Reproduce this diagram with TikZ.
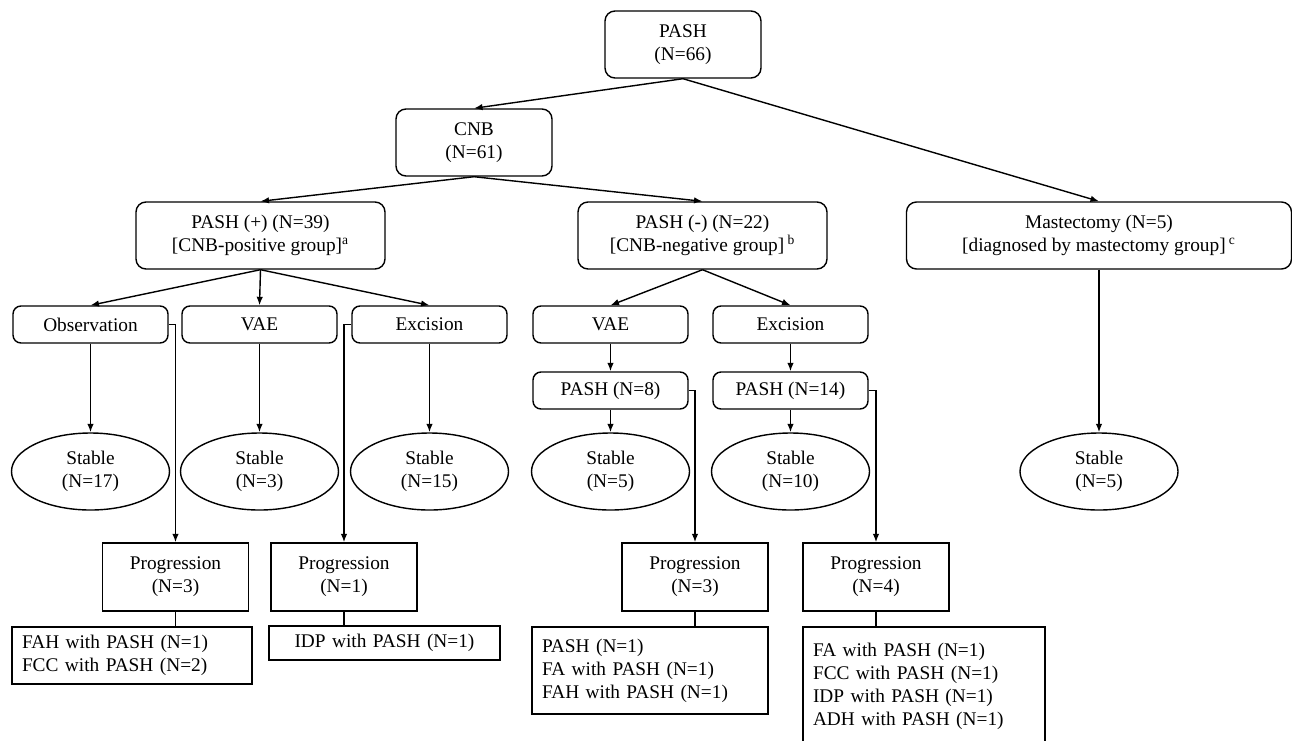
\documentclass[tikz,border=0pt]{standalone}
\usepackage{fontspec}
\setmainfont{Liberation Serif}
\usetikzlibrary{arrows.meta, shapes.geometric}

\begin{document}
\begin{tikzpicture}[line width=0.8pt, >={Latex[length=1.7mm, width=1.3mm]},
  every node/.style={align=center, font=\fontsize{11}{13.1}\selectfont, inner sep=0pt},
  rbox/.style={draw, rounded corners=0.2cm, minimum height=1.34cm},
  sbox/.style={draw, rounded corners=0.16cm, minimum width=3.1cm, minimum height=0.74cm},
  stab/.style={draw, ellipse, minimum width=3.16cm, minimum height=1.54cm},
  prog/.style={draw, minimum width=2.92cm, minimum height=1.36cm},
  detail/.style={draw, align=left, inner xsep=0.2cm}]
  \useasboundingbox (0, 0) rectangle (25.84, -14.8);

  \node[rbox, minimum width=3.12cm] (root) at (13.66, -0.89) {PASH\\(N=66)};
  \node[rbox, minimum width=3.12cm] (cnb) at (9.48, -2.85) {CNB\\(N=61)};
  \node[rbox, minimum width=4.98cm] (pos) at (5.21, -4.71) {PASH (+) (N=39)\\{[}CNB-positive group{]}\textsuperscript{a}};
  \node[rbox, minimum width=4.98cm] (neg) at (14.05, -4.71) {PASH (-) (N=22)\\{[}CNB-negative group{]}\,\textsuperscript{b}};
  \node[rbox, minimum width=7.7cm] (mast) at (21.98, -4.71) {Mastectomy (N=5)\\{[}diagnosed by mastectomy group{]}\,\textsuperscript{c}};

  \node[sbox] (obs) at (1.81, -6.49) {Observation};
  \node[sbox] (vaeP) at (5.19, -6.49) {VAE};
  \node[sbox] (excP) at (8.59, -6.49) {Excision};
  \node[sbox] (vaeN) at (12.21, -6.49) {VAE};
  \node[sbox] (excN) at (15.81, -6.49) {Excision};
  \node[sbox] (vaeNp) at (12.21, -7.81) {PASH (N=8)};
  \node[sbox] (excNp) at (15.81, -7.81) {PASH (N=14)};

  \node[stab] (obsS) at (1.81, -9.43) {Stable\\(N=17)};
  \node[stab] (vaePS) at (5.19, -9.43) {Stable\\(N=3)};
  \node[stab] (excPS) at (8.59, -9.43) {Stable\\(N=15)};
  \node[stab] (vaeNS) at (12.21, -9.43) {Stable\\(N=5)};
  \node[stab] (excNS) at (15.81, -9.43) {Stable\\(N=10)};
  \node[stab] (mastS) at (21.98, -9.43) {Stable\\(N=5)};

  \node[prog] (obsP) at (3.51, -11.54) {Progression\\(N=3)};
  \node[prog] (excPP) at (6.88, -11.54) {Progression\\(N=1)};
  \node[prog] (vaeNP) at (13.9, -11.54) {Progression\\(N=3)};
  \node[prog] (excNP) at (17.52, -11.54) {Progression\\(N=4)};

  \node[detail, text width=4.4cm, minimum height=1.14cm] (obsD) at (2.64, -13.11) {FAH with PASH (N=1)\\FCC with PASH (N=2)};
  \node[detail, align=center, text width=4.22cm, minimum height=0.68cm] (excPD) at (7.69, -12.86) {IDP with PASH (N=1)};
  \node[detail, text width=4.32cm, minimum height=1.74cm] (vaeND) at (13.0, -13.41) {PASH (N=1)\\FA with PASH (N=1)\\FAH with PASH (N=1)};
  \node[detail, text width=4.44cm, minimum height=2.36cm] (excND) at (18.48, -13.72) {FA with PASH (N=1)\\FCC with PASH (N=1)\\IDP with PASH (N=1)\\ADH with PASH (N=1)};

  \draw[->] (root.south) -- (cnb.north);
  \draw[->] (root.south) -- (mast.north);
  \draw[->] (cnb.south) -- (pos.north);
  \draw[->] (cnb.south) -- (neg.north);
  \draw[->] (pos.south) -- (obs.north);
  \draw[->] (pos.south) -- (vaeP.north);
  \draw[->] (pos.south) -- (excP.north);
  \draw[->] (neg.south) -- (vaeN.north);
  \draw[->] (neg.south) -- (excN.north);

  \draw[->] (obs) -- (obsS);
  \draw[->] (vaeP) -- (vaePS);
  \draw[->] (excP) -- (excPS);
  \draw[->] (vaeN) -- (vaeNp);
  \draw[->] (excN) -- (excNp);
  \draw[->] (vaeNp) -- (vaeNS);
  \draw[->] (excNp) -- (excNS);
  \draw[->] (mast) -- (mastS);

  \draw[->] (obs.east) -| (obsP.north);
  \draw[->] (excP.west) -| (excPP.north);
  \draw[->] (vaeNp.east) -| (vaeNP.north);
  \draw[->] (excNp.east) -| (excNP.north);

  \draw (obsP.south) -- (obsP.south |- obsD.north);
  \draw (excPP.south) -- (excPP.south |- excPD.north);
  \draw (vaeNP.south) -- (vaeNP.south |- vaeND.north);
  \draw (excNP.south) -- (excNP.south |- excND.north);
\end{tikzpicture}
\end{document}
